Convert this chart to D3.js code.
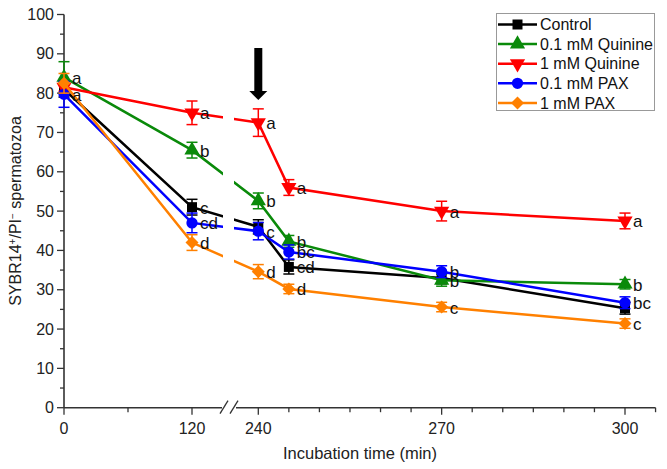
<!DOCTYPE html>
<html><head><meta charset="utf-8">
<script src="https://cdn.jsdelivr.net/npm/d3@7"></script>
<style>body{margin:0;background:#fff}svg{font-family:"Liberation Sans",Arial,sans-serif}</style>
</head><body><svg id="c" width="667" height="469"></svg>
<script>
const times = [0, 120, 240, 245, 270, 300];
const seriesNames = ["Control", "0.1 mM Quinine", "1 mM Quinine", "0.1 mM PAX", "1 mM PAX"];
const seriesColors = ["#000000", "#0a8a0a", "#ff0000", "#0000ff", "#ff8000"];
const seriesSymbols = ["square", "triangleUp", "triangleDown", "circle", "diamond"];
const controlVals = [81, 51, 46, 35.8, 33, 25.3];
const controlErr = [2, 2, 1.8, 1.8, 1.5, 1.5];
const quin01Vals = [84, 65.5, 52.6, 42.3, 32.4, 31.4];
const quin01Err = [4, 2, 2, 1.5, 1.5, 1.2];
const quin1Vals = [81.5, 75, 72.5, 56, 50, 47.5];
const quin1Err = [1, 3, 3.5, 2, 2.5, 2];
const pax01Vals = [79.7, 47, 44.9, 39.6, 34.6, 26.7];
const pax01Err = [3.3, 2.5, 2.2, 1.8, 1.5, 1.5];
const pax1Vals = [82.5, 42, 34.6, 30.2, 25.6, 21.4];
const pax1Err = [2.5, 2, 1.8, 1.2, 1.2, 1.2];
const controlLetters = ["", "c", "", "cd", "", ""];
const quin01Letters = ["a", "b", "b", "b", "b", "b"];
const quin1Letters = ["", "a", "a", "a", "a", "a"];
const pax01Letters = ["a", "cd", "c", "bc", "b", "bc"];
const pax1Letters = ["", "d", "d", "d", "c", "c"];
const yTicks = [0, 10, 20, 30, 40, 50, 60, 70, 80, 90, 100];
const xTicksLeft = [0, 120];
const xTicksRight = [240, 270, 300];

const allVals = [controlVals, quin01Vals, quin1Vals, pax01Vals, pax1Vals];
const allErr = [controlErr, quin01Err, quin1Err, pax01Err, pax1Err];
const allLetters = [controlLetters, quin01Letters, quin1Letters, pax01Letters, pax1Letters];

const svg = d3.select("#c");
const y = d3.scaleLinear().domain([0, 100]).range([407.7, 14.5]);
const xL = d3.scaleLinear().domain([0, 120]).range([64, 192]);
const xR = d3.scaleLinear().domain([240, 300]).range([258.3, 625]);
const X = t => t < 200 ? xL(t) : xR(t);
const axisY = y(0);
const axisColor = "#333";

// y axis
svg.append("line").attr("x1", 64).attr("x2", 64).attr("y1", y(100)).attr("y2", axisY).attr("stroke", axisColor).attr("stroke-width", 1.6);
d3.range(0, 101, 5).forEach(v => {
  const major = v % 10 === 0;
  svg.append("line").attr("x1", major ? 57 : 60).attr("x2", 64).attr("y1", y(v)).attr("y2", y(v)).attr("stroke", axisColor).attr("stroke-width", 1.3);
});
svg.selectAll(".yl").data(yTicks).enter().append("text").attr("x", 54).attr("y", d => y(d)).attr("dy", "0.35em")
  .attr("text-anchor", "end").attr("font-size", 16).attr("fill", "#222").text(d => d);

// x axis with break
const breakA = 222, breakB = 236;
svg.append("line").attr("x1", 64).attr("x2", breakA).attr("y1", axisY).attr("y2", axisY).attr("stroke", axisColor).attr("stroke-width", 1.6);
svg.append("line").attr("x1", breakB).attr("x2", xR(305)).attr("y1", axisY).attr("y2", axisY).attr("stroke", axisColor).attr("stroke-width", 1.6);
[breakA, breakB - 4].forEach(bx => {
  svg.append("line").attr("x1", bx - 2).attr("x2", bx + 6).attr("y1", axisY + 6).attr("y2", axisY - 7).attr("stroke", axisColor).attr("stroke-width", 1.3);
});
[0, 60, 120].forEach(t => {
  svg.append("line").attr("x1", xL(t)).attr("x2", xL(t)).attr("y1", axisY).attr("y2", axisY + (t % 120 === 0 ? 7 : 4.5)).attr("stroke", axisColor).attr("stroke-width", 1.3);
});
d3.range(240, 306, 5).forEach(t => {
  svg.append("line").attr("x1", xR(t)).attr("x2", xR(t)).attr("y1", axisY).attr("y2", axisY + (t % 30 === 0 ? 7 : 4.5)).attr("stroke", axisColor).attr("stroke-width", 1.3);
});
xTicksLeft.forEach(t => svg.append("text").attr("x", xL(t)).attr("y", 434).attr("text-anchor", "middle").attr("font-size", 16).attr("fill", "#222").text(t));
xTicksRight.forEach(t => svg.append("text").attr("x", xR(t)).attr("y", 434).attr("text-anchor", "middle").attr("font-size", 16).attr("fill", "#222").text(t));
svg.append("text").attr("x", 360).attr("y", 459).attr("text-anchor", "middle").attr("font-size", 16.5).attr("fill", "#222").text("Incubation time (min)");

// y title
const yt = svg.append("text").attr("transform", "translate(21,211) rotate(-90)").attr("text-anchor", "middle").attr("font-size", 16).attr("fill", "#222");
yt.append("tspan").text("SYBR14");
yt.append("tspan").attr("baseline-shift", "super").attr("font-size", 10).text("+");
yt.append("tspan").text("/PI");
yt.append("tspan").attr("baseline-shift", "super").attr("font-size", 10).text("−");
yt.append("tspan").text(" spermatozoa");

// clip with gap at break
const defs = svg.append("defs");
const cp = defs.append("clipPath").attr("id", "gap");
cp.append("rect").attr("x", 0).attr("y", 0).attr("width", 223).attr("height", 469);
cp.append("rect").attr("x", 234).attr("y", 0).attr("width", 433).attr("height", 469);

const symMap = {square: d3.symbolSquare, triangleUp: d3.symbolTriangle, circle: d3.symbolCircle, diamond: d3.symbolDiamond};
function drawMarker(g, kind, cx, cy, color, size) {
  if (kind === "triangleDown") {
    g.append("path").attr("d", d3.symbol().type(d3.symbolTriangle).size(size)()).attr("transform", `translate(${cx},${cy}) rotate(180)`).attr("fill", color);
  } else if (kind === "diamond") {
    g.append("path").attr("d", d3.symbol().type(d3.symbolSquare).size(size * 0.85)()).attr("transform", `translate(${cx},${cy}) rotate(45)`).attr("fill", color);
  } else {
    g.append("path").attr("d", d3.symbol().type(symMap[kind]).size(size)()).attr("transform", `translate(${cx},${cy})`).attr("fill", color);
  }
}

const line = d3.line().x(d => X(d.t)).y(d => y(d.v));
allVals.forEach((vals, i) => {
  const color = seriesColors[i];
  const data = times.map((t, j) => ({t, v: vals[j], e: allErr[i][j], l: allLetters[i][j]}));
  const g = svg.append("g");
  g.append("path").datum(data).attr("d", line).attr("fill", "none").attr("stroke", color).attr("stroke-width", 2.5).attr("clip-path", "url(#gap)");
  data.forEach(d => {
    const cx = X(d.t);
    g.append("line").attr("x1", cx).attr("x2", cx).attr("y1", y(d.v + d.e)).attr("y2", y(d.v - d.e)).attr("stroke", color).attr("stroke-width", 1.5);
    [d.v + d.e, d.v - d.e].forEach(ev => g.append("line").attr("x1", cx - 5.5).attr("x2", cx + 5.5).attr("y1", y(ev)).attr("y2", y(ev)).attr("stroke", color).attr("stroke-width", 1.5));
    drawMarker(g, seriesSymbols[i], cx, y(d.v), color, 100);
  });
});
// letters on top
allVals.forEach((vals, i) => {
  times.forEach((t, j) => {
    const l = allLetters[i][j];
    if (!l) return;
    svg.append("text").attr("x", X(t) + 8).attr("y", y(vals[j])).attr("dy", "0.38em").attr("font-size", 17).attr("fill", "#111").text(l);
  });
});

// arrow at 240
const ax = xR(240);
svg.append("rect").attr("x", ax - 4).attr("y", 48).attr("width", 8).attr("height", 45).attr("fill", "#000");
svg.append("path").attr("d", `M${ax - 9},${91} L${ax + 9},${91} L${ax},${100} Z`).attr("fill", "#000");

// legend
const lg = svg.append("g");
lg.append("rect").attr("x", 496.5).attr("y", 13.5).attr("width", 158).attr("height", 97).attr("fill", "#fff").attr("stroke", "#999").attr("stroke-width", 1);
seriesNames.forEach((n, i) => {
  const ly = 24.5 + i * 19.6;
  lg.append("line").attr("x1", 498).attr("x2", 537).attr("y1", ly).attr("y2", ly).attr("stroke", seriesColors[i]).attr("stroke-width", 2.5);
  drawMarker(lg, seriesSymbols[i], 517.5, ly, seriesColors[i], 100);
  lg.append("text").attr("x", 540).attr("y", ly).attr("dy", "0.36em").attr("font-size", 16).attr("fill", "#111").text(n);
});
</script></body></html>
